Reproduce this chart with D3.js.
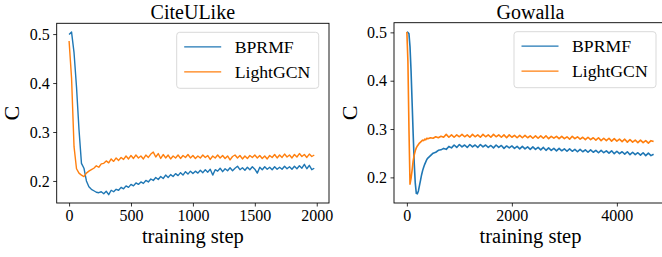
<!DOCTYPE html>
<html>
<head>
<meta charset="utf-8">
<script src="https://cdn.jsdelivr.net/npm/d3@7"></script>
<style>
  body { margin: 0; background: #fff; }
  svg text { font-family: "Liberation Serif", "Times New Roman", serif; fill: #000; }
</style>
</head>
<body>
<svg id="chart" width="662" height="257"></svg>
<script>
// ---- data ----
var seriesNames = ["BPRMF", "LightGCN"];
var seriesColors = ["#1f77b4", "#ff7f0e"];

// CiteULike: one sample every 20 steps, 0..1980
var citeSteps = d3.range(0, 2000, 20);
var citeBPRMF = [
  0.499, 0.504, 0.462, 0.392, 0.305, 0.236, 0.226, 0.200, 0.188, 0.183,
  0.180, 0.177, 0.176, 0.178, 0.174, 0.179, 0.172, 0.181, 0.178, 0.183,
  0.181, 0.187, 0.184, 0.190, 0.187, 0.193, 0.190, 0.196, 0.193, 0.198,
  0.195, 0.201, 0.198, 0.204, 0.201, 0.207, 0.203, 0.209, 0.205, 0.212,
  0.207, 0.213, 0.209, 0.215, 0.211, 0.217, 0.212, 0.219, 0.214, 0.220,
  0.215, 0.220, 0.216, 0.222, 0.217, 0.223, 0.218, 0.224, 0.212, 0.223,
  0.220, 0.226, 0.219, 0.225, 0.221, 0.227, 0.221, 0.226, 0.230, 0.223,
  0.227, 0.222, 0.228, 0.223, 0.229, 0.224, 0.216, 0.228, 0.223, 0.229,
  0.224, 0.228, 0.223, 0.229, 0.224, 0.228, 0.224, 0.230, 0.225, 0.229,
  0.224, 0.230, 0.225, 0.231, 0.226, 0.234, 0.225, 0.232, 0.223, 0.226
];
var citeLightGCN = [
  0.486, 0.410, 0.270, 0.225, 0.216, 0.212, 0.209, 0.216, 0.220, 0.223,
  0.226, 0.231, 0.228, 0.235, 0.236, 0.241, 0.237, 0.245, 0.240, 0.247,
  0.242, 0.248, 0.244, 0.251, 0.245, 0.252, 0.246, 0.253, 0.247, 0.251,
  0.245, 0.253, 0.248, 0.255, 0.259, 0.249, 0.256, 0.246, 0.254, 0.247,
  0.253, 0.245, 0.251, 0.247, 0.253, 0.246, 0.252, 0.248, 0.254, 0.247,
  0.252, 0.246, 0.251, 0.247, 0.253, 0.248, 0.252, 0.244, 0.251, 0.247,
  0.253, 0.247, 0.252, 0.246, 0.251, 0.243, 0.250, 0.253, 0.247, 0.252,
  0.245, 0.251, 0.246, 0.252, 0.248, 0.253, 0.247, 0.252, 0.246, 0.251,
  0.245, 0.252, 0.248, 0.254, 0.247, 0.253, 0.248, 0.255, 0.249, 0.253,
  0.247, 0.254, 0.249, 0.256, 0.250, 0.254, 0.248, 0.255, 0.250, 0.253
];

// Gowalla: every 20 steps up to 380, then every 50 steps to 4700
var gowSteps = d3.range(0, 400, 20).concat(d3.range(400, 4701, 50));
var gowBPRMF = [
  0.501, 0.500, 0.497, 0.470, 0.420, 0.355, 0.290, 0.230, 0.188, 0.167,
  0.166, 0.172, 0.183, 0.194, 0.205, 0.214, 0.221, 0.227, 0.232, 0.237,
  0.240, 0.245, 0.250, 0.252, 0.256, 0.257, 0.260, 0.258, 0.264, 0.261,
  0.267, 0.262, 0.268, 0.263, 0.267, 0.262, 0.268, 0.263, 0.267, 0.262,
  0.268, 0.263, 0.267, 0.262, 0.266, 0.261, 0.267, 0.262, 0.266, 0.260,
  0.265, 0.261, 0.265, 0.260, 0.264, 0.259, 0.264, 0.259, 0.263, 0.258,
  0.263, 0.258, 0.262, 0.257, 0.262, 0.256, 0.261, 0.256, 0.260, 0.255,
  0.260, 0.255, 0.259, 0.254, 0.259, 0.254, 0.258, 0.253, 0.258, 0.253,
  0.257, 0.252, 0.257, 0.252, 0.256, 0.251, 0.256, 0.251, 0.255, 0.250,
  0.255, 0.249, 0.254, 0.249, 0.253, 0.248, 0.253, 0.247, 0.252, 0.247,
  0.251, 0.246, 0.251, 0.245, 0.250, 0.245, 0.248
];
var gowLightGCN = [
  0.501, 0.440, 0.300, 0.186, 0.198, 0.215, 0.234, 0.246, 0.255, 0.261,
  0.265, 0.268, 0.271, 0.273, 0.275, 0.277, 0.276, 0.279, 0.278, 0.281,
  0.280, 0.282, 0.281, 0.284, 0.282, 0.285, 0.283, 0.289, 0.283, 0.288,
  0.283, 0.288, 0.284, 0.289, 0.284, 0.288, 0.283, 0.289, 0.284, 0.288,
  0.283, 0.289, 0.284, 0.288, 0.283, 0.289, 0.284, 0.288, 0.283, 0.288,
  0.282, 0.288, 0.283, 0.287, 0.282, 0.287, 0.282, 0.287, 0.282, 0.286,
  0.281, 0.286, 0.281, 0.286, 0.281, 0.286, 0.280, 0.285, 0.281, 0.285,
  0.280, 0.285, 0.280, 0.284, 0.279, 0.285, 0.280, 0.284, 0.279, 0.283,
  0.278, 0.283, 0.278, 0.282, 0.277, 0.282, 0.276, 0.281, 0.276, 0.281,
  0.275, 0.280, 0.275, 0.279, 0.274, 0.279, 0.273, 0.278, 0.273, 0.277,
  0.272, 0.277, 0.272, 0.276, 0.271, 0.276, 0.274
];

var yTicks = [0.2, 0.3, 0.4, 0.5];
var citeXTicks = [0, 500, 1000, 1500, 2000];
var gowXTicks = [0, 2000, 4000];

// ---- drawing ----
var svg = d3.select("#chart");
var serif = '"Liberation Serif", "Times New Roman", serif';

function drawPanel(p) {
  var g = svg.append("g").attr("transform", "translate(" + p.left + "," + p.top + ")");
  var x = d3.scaleLinear().domain(p.xDomain).range([0, p.width]);
  var y = d3.scaleLinear().domain(p.yDomain).range([p.height, 0]);

  var line = d3.line()
    .x(function (d) { return x(d[0]); })
    .y(function (d) { return y(d[1]); });

  p.series.forEach(function (vals, i) {
    var pts = p.steps.map(function (s, k) { return [s, vals[k]]; });
    g.append("path")
      .datum(pts)
      .attr("fill", "none")
      .attr("stroke", seriesColors[i])
      .attr("stroke-width", p.lineWidth)
      .attr("stroke-linejoin", "round")
      .attr("d", line);
  });

  // frame
  g.append("rect")
    .attr("width", p.width).attr("height", p.height)
    .attr("fill", "none").attr("stroke", "#000").attr("stroke-width", 0.9);

  var yAxis = g.append("g")
    .call(d3.axisLeft(y).tickValues(yTicks).tickFormat(d3.format(".1f")).tickSize(3.5).tickPadding(3.5));
  var xAxis = g.append("g")
    .attr("transform", "translate(0," + p.height + ")")
    .call(d3.axisBottom(x).tickValues(p.xTicks).tickFormat(d3.format("d")).tickSize(3.5).tickPadding(3));
  [yAxis, xAxis].forEach(function (a) {
    a.attr("font-family", serif).attr("font-size", 16);
    a.select(".domain").remove();
    a.selectAll("line").attr("stroke", "#000").attr("stroke-width", 0.8);
    a.selectAll("text").style("font-size", "16px").style("font-family", serif);
  });

  g.append("text")
    .attr("x", p.width / 2).attr("y", -4)
    .attr("text-anchor", "middle")
    .style("font-size", "20px")
    .text(p.title);

  g.append("text")
    .attr("x", p.width / 2).attr("y", p.height + 40)
    .attr("text-anchor", "middle")
    .style("font-size", "20.5px")
    .text("training step");

  g.append("text")
    .attr("transform", "translate(" + p.yLabelX + "," + (p.height / 2) + ") rotate(-90)")
    .attr("text-anchor", "middle")
    .style("font-size", "22px")
    .text("C");

  // legend
  var lg = g.append("g").attr("transform", "translate(" + p.legendX + ",9)");
  lg.append("rect")
    .attr("width", 142).attr("height", 56).attr("rx", 3)
    .attr("fill", "#fff").attr("stroke", "#d5d5d5").attr("stroke-width", 0.9);
  seriesNames.forEach(function (name, i) {
    var ly = 14.5 + i * 25;
    lg.append("line")
      .attr("x1", 7.5).attr("x2", 44.5).attr("y1", ly).attr("y2", ly)
      .attr("stroke", seriesColors[i]).attr("stroke-width", 1.3);
    lg.append("text")
      .attr("x", 58).attr("y", ly + 6)
      .style("font-size", "17.7px")
      .text(name);
  });
}

drawPanel({
  title: "CiteULike", left: 56.7, top: 23.3, width: 272.3, height: 179.7,
  xDomain: [-100, 2099], yDomain: [0.155, 0.522],
  steps: citeSteps, series: [citeBPRMF, citeLightGCN], lineWidth: 1.4,
  xTicks: citeXTicks, yLabelX: -38, legendX: 120
});
drawPanel({
  title: "Gowalla", left: 394, top: 22.7, width: 273, height: 180.3,
  xDomain: [-245, 4955], yDomain: [0.147, 0.520],
  steps: gowSteps, series: [gowBPRMF, gowLightGCN], lineWidth: 1.6,
  xTicks: gowXTicks, yLabelX: -37, legendX: 120
});
</script>
</body>
</html>
